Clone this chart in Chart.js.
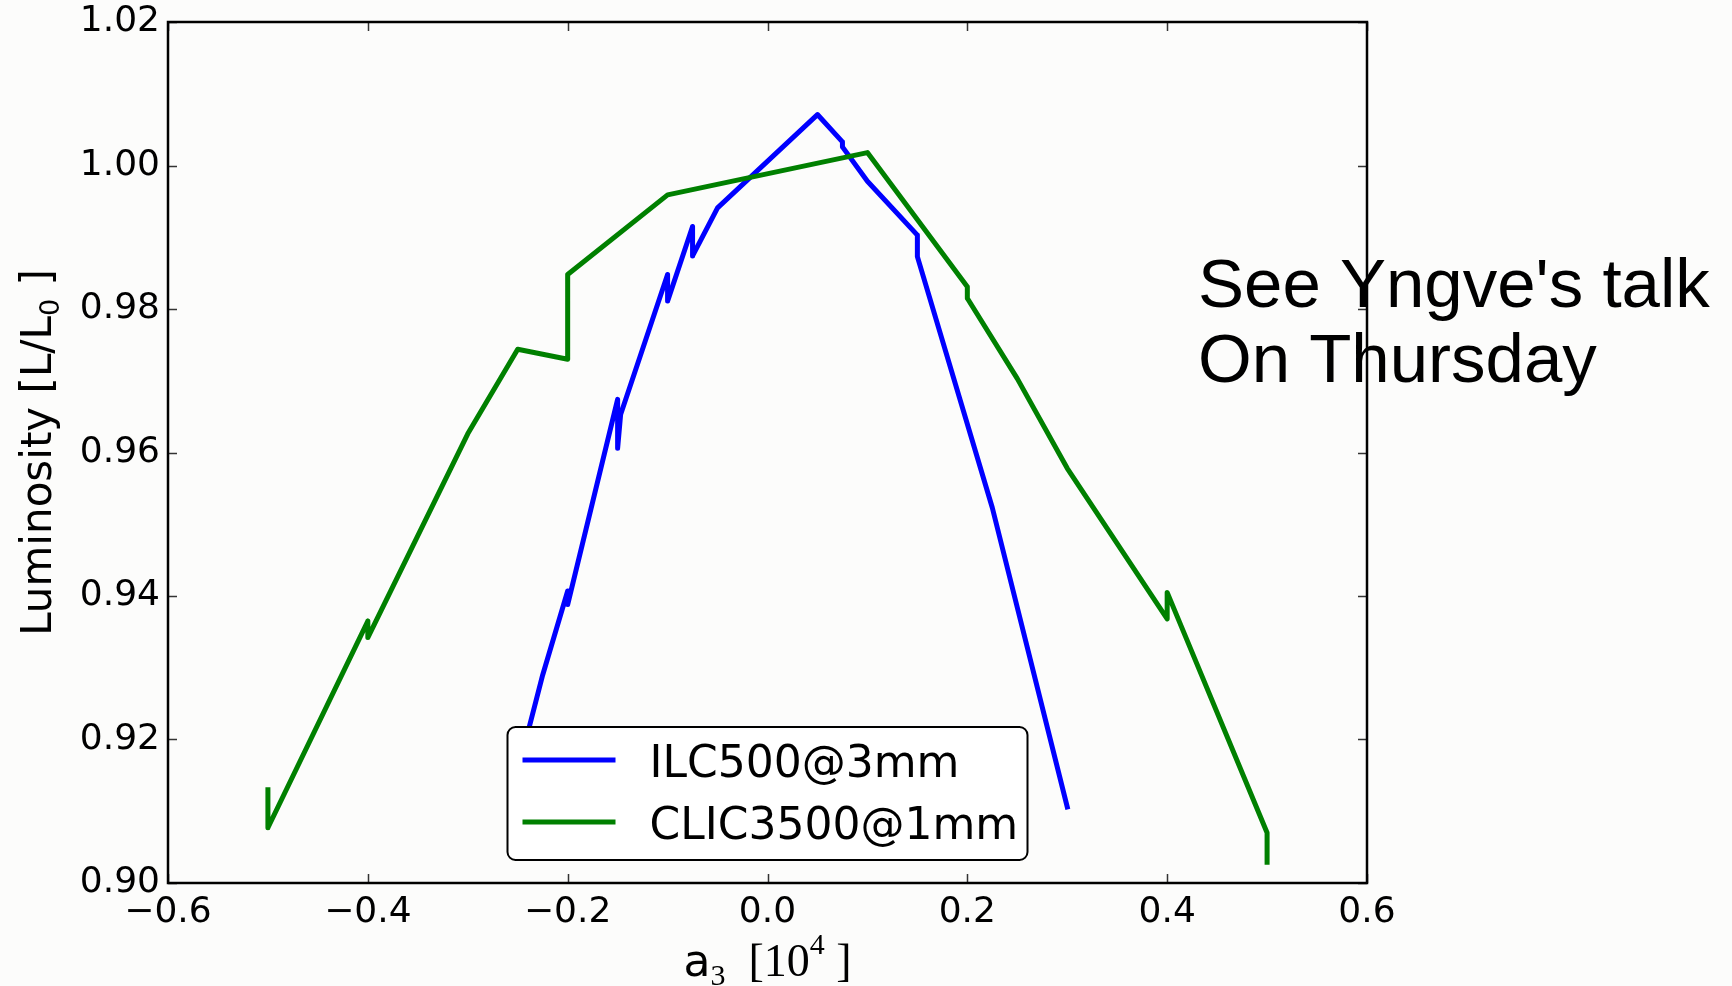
<!DOCTYPE html>
<html>
<head>
<meta charset="utf-8">
<title>Luminosity vs a3</title>
<script src="https://cdn.jsdelivr.net/npm/chart.js@4.4.1/dist/chart.umd.min.js"></script>
<style>
  html, body { margin: 0; padding: 0; background: #fcfcfb; }
  #wrap { position: relative; width: 1732px; height: 986px; }
</style>
</head>
<body>
<div id="wrap"><canvas id="lumiChart"></canvas></div>
<script>
/* === DATA === */
const seriesNames = ['ILC500@3mm', 'CLIC3500@1mm'];
const seriesColors = ['#0000ff', '#008000'];

const ilcA3   = [-0.25, -0.225, -0.2, -0.2, -0.15, -0.15, -0.147, -0.1, -0.1, -0.075, -0.075, -0.05, 0.05, 0.075, 0.075, 0.1, 0.15, 0.15, 0.225, 0.3];
const ilcLumi = [0.9155, 0.929, 0.9407, 0.9388, 0.9674, 0.9606, 0.9653, 0.9848, 0.9811, 0.9915, 0.9874, 0.9941, 1.0071, 1.0033, 1.0026, 0.9978, 0.9903, 0.9873, 0.9523, 0.9106];

const clicA3   = [-0.5, -0.5, -0.4, -0.4, -0.3, -0.25, -0.2, -0.2, -0.1, 0.1, 0.2, 0.2, 0.25, 0.3, 0.4, 0.4, 0.5, 0.5];
const clicLumi = [0.9130, 0.9077, 0.9365, 0.9342, 0.9626, 0.9744, 0.9730, 0.9848, 0.9959, 1.0018, 0.9831, 0.9815, 0.9703, 0.9578, 0.9368, 0.9405, 0.9070, 0.9029];

const xTicks = [-0.6, -0.4, -0.2, 0.0, 0.2, 0.4, 0.6];
const yTicks = [0.90, 0.92, 0.94, 0.96, 0.98, 1.00, 1.02];
const noteLines = ["See Yngve's talk", 'On Thursday'];

const toPoints = (xs, ys) => xs.map((x, i) => ({ x, y: ys[i] }));
const fmtX = v => Math.abs(v) < 1e-9 ? '0.0' : v.toFixed(1).replace('-', '\u2212');

const SANS = '"DejaVu Sans"';
const SERIF = '"Liberation Serif"';

// draws a run of text pieces with their own font and vertical shift
const drawRun = (ctx, parts, cx, baseY) => {
    const widths = parts.map(p => { ctx.font = p.font; return ctx.measureText(p.t).width; });
    let x = cx - widths.reduce((s, w) => s + w, 0) / 2;
    parts.forEach((p, i) => {
        ctx.font = p.font;
        ctx.fillText(p.t, x, baseY + (p.dy || 0));
        x += widths[i];
    });
};

/* === FRAME, INWARD TICKS, AXIS TITLES, LEGEND, NOTE === */
const decorations = {
    id: 'decorations',
    afterDraw(chart) {
        const { ctx, chartArea: a, scales: { x, y } } = chart;
        ctx.save();

        // inward ticks on all four sides
        ctx.strokeStyle = '#333';
        ctx.lineWidth = 1.5;
        ctx.beginPath();
        xTicks.forEach(v => {
            const px = Math.round(x.getPixelForValue(v)) + 0.5;
            ctx.moveTo(px, a.bottom); ctx.lineTo(px, a.bottom - 9);
            ctx.moveTo(px, a.top); ctx.lineTo(px, a.top + 9);
        });
        yTicks.forEach(v => {
            const py = Math.round(y.getPixelForValue(v)) + 0.5;
            ctx.moveTo(a.left, py); ctx.lineTo(a.left + 9, py);
            ctx.moveTo(a.right, py); ctx.lineTo(a.right - 9, py);
        });
        ctx.stroke();

        // plot box
        ctx.strokeStyle = '#000';
        ctx.lineWidth = 2.5;
        ctx.strokeRect(a.left, a.top, a.right - a.left, a.bottom - a.top);

        // legend (lower centre, inside the axes)
        const lw = 520, lh = 133;
        const lx = (a.left + a.right) / 2 - lw / 2;
        const ly = a.bottom - 23 - lh;
        ctx.beginPath();
        ctx.roundRect(lx, ly, lw, lh, 8);
        ctx.fillStyle = '#ffffff';
        ctx.fill();
        ctx.lineWidth = 2;
        ctx.strokeStyle = '#000';
        ctx.stroke();
        chart.data.datasets.forEach((ds, i) => {
            const rowY = ly + 33 + i * 62;
            ctx.strokeStyle = ds.borderColor;
            ctx.lineWidth = 5;
            ctx.beginPath();
            ctx.moveTo(lx + 15, rowY);
            ctx.lineTo(lx + 108, rowY);
            ctx.stroke();
            ctx.fillStyle = '#000';
            ctx.font = '44px ' + SANS;
            ctx.textAlign = 'left';
            ctx.textBaseline = 'alphabetic';
            ctx.fillText(ds.label, lx + 142, rowY + 16.5);
        });

        // x axis title: a_3 [10^4 ]
        ctx.fillStyle = '#000';
        ctx.textAlign = 'left';
        ctx.textBaseline = 'alphabetic';
        drawRun(ctx, [
            { t: 'a', font: '44px ' + SANS },
            { t: '3', font: '30px ' + SERIF, dy: 9 },
            { t: '  [10', font: '46px ' + SERIF },
            { t: '4', font: '30px ' + SERIF, dy: -22 },
            { t: ' ]', font: '46px ' + SERIF }
        ], (a.left + a.right) / 2, 976);

        // y axis title: Luminosity [L/L_0 ]
        ctx.save();
        ctx.translate(51, (a.top + a.bottom) / 2);
        ctx.rotate(-Math.PI / 2);
        drawRun(ctx, [
            { t: 'Luminosity [L/L', font: '42px ' + SANS },
            { t: '0', font: '27px ' + SANS, dy: 8 },
            { t: ' ]', font: '42px ' + SANS }
        ], 0, 0);
        ctx.restore();

        // side note
        ctx.font = '69px "Liberation Sans"';
        ctx.fillStyle = '#000';
        ctx.textAlign = 'left';
        noteLines.forEach((line, i) => ctx.fillText(line, 1198, 307 + i * 75));

        ctx.restore();
    }
};

/* === CHART === */
Chart.defaults.font.family = SANS;
Chart.defaults.color = '#000';

const ctx = document.getElementById('lumiChart');
new Chart(ctx, {
    type: 'scatter',
    data: {
        datasets: [
            {
                label: seriesNames[0],
                data: toPoints(ilcA3, ilcLumi),
                borderColor: seriesColors[0],
                order: 1
            },
            {
                label: seriesNames[1],
                data: toPoints(clicA3, clicLumi),
                borderColor: seriesColors[1],
                order: 0
            }
        ].map(ds => Object.assign(ds, {
            showLine: true,
            pointRadius: 0,
            pointHoverRadius: 0,
            borderWidth: 5,
            borderJoinStyle: 'round',
            borderCapStyle: 'square',
            backgroundColor: ds.borderColor,
            tension: 0
        }))
    },
    options: {
        responsive: true,
        maintainAspectRatio: false,
        animation: false,
        layout: { padding: { top: 22, right: 365, bottom: 0, left: 0 } },
        plugins: {
            legend: { display: false },
            tooltip: { enabled: false }
        },
        scales: {
            x: {
                type: 'linear',
                min: -0.6,
                max: 0.6,
                afterBuildTicks: s => { s.ticks = xTicks.map(v => ({ value: v })); },
                afterFit: s => { s.height = 103; },
                grid: { display: false, drawTicks: false, tickLength: 0 },
                border: { display: false },
                ticks: {
                    autoSkip: false,
                    maxRotation: 0,
                    padding: 8,
                    font: { size: 36 },
                    callback: v => fmtX(v)
                }
            },
            y: {
                type: 'linear',
                min: 0.90,
                max: 1.02,
                afterBuildTicks: s => { s.ticks = yTicks.map(v => ({ value: v })); },
                afterFit: s => { s.width = 168; },
                grid: { display: false, drawTicks: false, tickLength: 0 },
                border: { display: false },
                ticks: {
                    autoSkip: false,
                    padding: 8,
                    font: { size: 36, lineHeight: 0.75 },
                    callback: v => v.toFixed(2)
                }
            }
        }
    },
    plugins: [decorations]
});
</script>
</body>
</html>
